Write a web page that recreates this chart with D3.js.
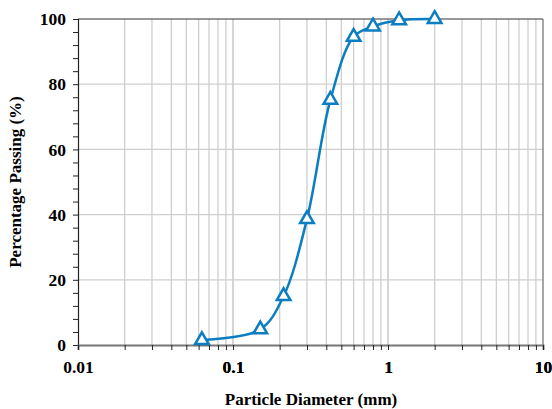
<!DOCTYPE html>
<html>
<head>
<meta charset="utf-8">
<script src="https://cdn.jsdelivr.net/npm/d3@7"></script>
<style>
  body { margin: 0; background: #fff; }
  svg { display: block; font-family: "Liberation Serif", "Times New Roman", serif; }
</style>
</head>
<body>
<svg width="552" height="409"></svg>
<script>
// --- DATA ---
const diameters = [0.063, 0.15, 0.212, 0.3, 0.425, 0.6, 0.8, 1.18, 2.0];
const passing = [1.5, 4.8, 15, 38.6, 75.2, 94.5, 97.7, 99.6, 100];
const xTickValues = [0.01, 0.1, 1, 10];
const xTickLabels = ['0.01', '0.1', '1', '10'];
const yTickValues = [0, 20, 40, 60, 80, 100];

// --- SETUP ---
const svg = d3.select('svg');
const margin = { left: 78, right: 9, top: 19, bottom: 64 };
const W = 552, H = 409;

const x = d3.scaleLog().domain([0.01, 10]).range([margin.left, W - margin.right]);
const y = d3.scaleLinear().domain([0, 100]).range([H - margin.bottom, margin.top]);

// minor log values for grid
const logGrid = [];
[0.01, 0.1, 1].forEach(dec => {
    for (let k = 1; k <= 10; k++) logGrid.push(dec * k);
});

// --- GRID ---
const grid = svg.append('g').attr('stroke', '#cfcfcf').attr('stroke-width', 1.3);
grid.selectAll('line.v')
    .data(logGrid.filter(v => v > 0.01 && v < 10))
    .enter().append('line')
    .attr('x1', d => x(d)).attr('x2', d => x(d))
    .attr('y1', y(100)).attr('y2', y(0));
grid.selectAll('line.h')
    .data(yTickValues.filter(v => v > 0 && v < 100))
    .enter().append('line')
    .attr('x1', x(0.01)).attr('x2', x(10))
    .attr('y1', d => y(d)).attr('y2', d => y(d));

// --- BORDER ---
svg.append('line')
    .attr('x1', x(0.01)).attr('x2', x(10))
    .attr('y1', y(100)).attr('y2', y(100))
    .attr('stroke', '#333').attr('stroke-width', 1);
svg.append('line')
    .attr('x1', x(10)).attr('x2', x(10))
    .attr('y1', y(100)).attr('y2', y(0))
    .attr('stroke', '#777').attr('stroke-width', 1.3);

// --- AXES ---
const yAxis = d3.axisLeft(y)
    .tickValues(d3.range(0, 101, 4))
    .tickSize(5)
    .tickFormat(d => d % 20 === 0 ? d : '');
const gy = svg.append('g')
    .attr('transform', `translate(${margin.left},0)`)
    .call(yAxis);
gy.select('.domain').attr('stroke', '#222').attr('stroke-width', 1.2);
gy.selectAll('.tick line').attr('stroke', '#222').attr('stroke-width', 1);
gy.selectAll('.tick text')
    .attr('x', -12)
    .style('font-family', '"Liberation Serif", serif')
    .style('font-size', '17.5px').style('font-weight', 'bold').attr('fill', '#000');

const xAxis = d3.axisBottom(x)
    .tickValues(logGrid.concat([10]))
    .tickSize(5)
    .tickFormat(d => {
        const i = xTickValues.findIndex(v => Math.abs(v - d) < 1e-9);
        return i >= 0 ? xTickLabels[i] : '';
    });
const gx = svg.append('g')
    .attr('transform', `translate(0,${H - margin.bottom})`)
    .call(xAxis);
gx.select('.domain').attr('stroke', '#777').attr('stroke-width', 2);
gx.selectAll('.tick line').attr('stroke', '#222').attr('stroke-width', 1);
gx.selectAll('.tick text')
    .attr('y', 16)
    .style('font-family', '"Liberation Serif", serif')
    .style('font-size', '17.5px').style('font-weight', 'bold').attr('fill', '#000');

// --- TITLES ---
svg.append('text')
    .attr('x', 311).attr('y', 405)
    .attr('text-anchor', 'middle')
    .style('font-size', '17px').style('font-weight', 'bold')
    .text('Particle Diameter (mm)');
svg.append('text')
    .attr('transform', `translate(21,${(y(0) + y(100)) / 2}) rotate(-90)`)
    .attr('text-anchor', 'middle')
    .style('font-size', '17px').style('font-weight', 'bold')
    .text('Percentage Passing (%)');

// --- SERIES ---
const data = diameters.map((d, i) => ({ d, p: passing[i] }));
const line = d3.line()
    .x(d => x(d.d)).y(d => y(d.p))
    .curve(d3.curveCatmullRom.alpha(0.5));
svg.append('path')
    .datum(data)
    .attr('d', line)
    .attr('fill', 'none')
    .attr('stroke', '#0b7dc1')
    .attr('stroke-width', 2.5);

const tri = d3.symbol().type(d3.symbolTriangle).size(80);
svg.append('g').selectAll('path')
    .data(data)
    .enter().append('path')
    .attr('d', tri)
    .attr('transform', d => `translate(${x(d.d)},${y(d.p)})`)
    .attr('fill', '#fff')
    .attr('stroke', '#0b7dc1')
    .attr('stroke-width', 2.5);
</script>
</body>
</html>
